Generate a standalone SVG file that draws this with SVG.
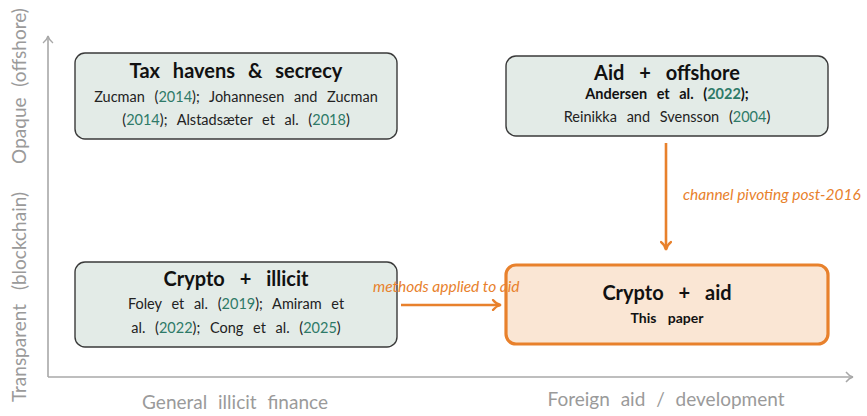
<svg xmlns="http://www.w3.org/2000/svg" width="867" height="416" viewBox="0 0 867 416">
<defs>
<style>
.box{fill:#e3ebe7;stroke:#3a3a3a;stroke-width:1.4}
.hl{fill:#fae6d4;stroke:#e8812c;stroke-width:3.2}
.axis{stroke:#a8a8a8;stroke-width:1.6;fill:none}
.ax{font-family:Lato,"Open Sans",sans-serif;font-size:19px;fill:#9a9a9a;word-spacing:6px}
.t{font-family:Lato,"Open Sans",sans-serif;font-weight:bold;font-size:20px;fill:#111;text-anchor:middle;word-spacing:8px}
.c{font-family:Lato,"Open Sans",sans-serif;font-size:14.5px;fill:#222;text-anchor:middle;word-spacing:6px}
.cb{font-family:Lato,"Open Sans",sans-serif;font-weight:bold;font-size:14.5px;fill:#111;text-anchor:middle;word-spacing:6px}
.y{fill:#2e7a68}
.lbl{font-family:Lato,"Open Sans",sans-serif;font-style:italic;font-size:15.5px;fill:#e8812c}
.conn{stroke:#e8812c;stroke-width:2.6;fill:none}
</style>
<marker id="ah" viewBox="0 0 12 12" refX="9" refY="6" markerWidth="12" markerHeight="12" markerUnits="userSpaceOnUse" orient="auto">
<path d="M2,1 Q5,5 10,6 Q5,7 2,11" fill="none" stroke="#e8812c" stroke-width="2.2" stroke-linecap="round"/>
</marker>
<marker id="gh" viewBox="0 0 12 12" refX="10" refY="6" markerWidth="12" markerHeight="12" markerUnits="userSpaceOnUse" orient="auto">
<path d="M3,1 Q6,5 10,6 Q6,7 3,11" fill="none" stroke="#a8a8a8" stroke-width="1.4"/>
</marker>
</defs>
<rect width="867" height="416" fill="#fff"/>
<g id="axes">
<path class="axis" d="M48,377 L48,36" marker-end="url(#gh)"/>
<path class="axis" d="M48,377 L853,377" marker-end="url(#gh)"/>
<text class="ax" transform="translate(26,86) rotate(-90)" text-anchor="middle">Opaque (offshore)</text>
<text class="ax" transform="translate(26,297) rotate(-90)" text-anchor="middle" style="word-spacing:9px">Transparent (blockchain)</text>
<text class="ax" x="235" y="409" text-anchor="middle">General illicit finance</text>
<text class="ax" x="666" y="406" text-anchor="middle">Foreign aid / development</text>
</g>
<g id="tax-havens">
<rect class="box" x="75" y="53" width="322" height="86" rx="10"/>
<text class="t" x="236" y="78">Tax havens &amp; secrecy</text>
<text class="c" x="236" y="102">Zucman (<tspan class="y">2014</tspan>); Johannesen and Zucman</text>
<text class="c" x="236" y="125">(<tspan class="y">2014</tspan>); Alstadsæter et al. (<tspan class="y">2018</tspan>)</text>
</g>
<g id="aid-offshore">
<rect class="box" x="506" y="56" width="322" height="80" rx="10"/>
<text class="t" x="667" y="80" style="word-spacing:10px">Aid + offshore</text>
<text class="cb" x="667" y="99">Andersen et al. (<tspan class="y">2022</tspan>);</text>
<text class="c" x="667" y="122">Reinikka and Svensson (<tspan class="y">2004</tspan>)</text>
</g>
<g id="crypto-illicit">
<rect class="box" x="75" y="262" width="322" height="85" rx="10"/>
<text class="t" x="236" y="286" style="word-spacing:10px">Crypto + illicit</text>
<text class="c" x="236" y="309">Foley et al. (<tspan class="y">2019</tspan>); Amiram et</text>
<text class="c" x="236" y="333">al. (<tspan class="y">2022</tspan>); Cong et al. (<tspan class="y">2025</tspan>)</text>
</g>
<g id="crypto-aid">
<rect class="hl" x="506" y="265" width="322" height="79" rx="10"/>
<text class="t" x="667" y="300" style="word-spacing:10px">Crypto + aid</text>
<text class="cb" x="667" y="323" style="font-size:14px;word-spacing:8px">This paper</text>
</g>
<g id="connectors">
<path class="conn" d="M666,143 L666,249" marker-end="url(#ah)"/>
<text class="lbl" x="683" y="200">channel pivoting post-2016</text>
<path class="conn" d="M401,305 L500,305" marker-end="url(#ah)"/>
<text class="lbl" x="373" y="292">methods applied to aid</text>
</g>
</svg>
